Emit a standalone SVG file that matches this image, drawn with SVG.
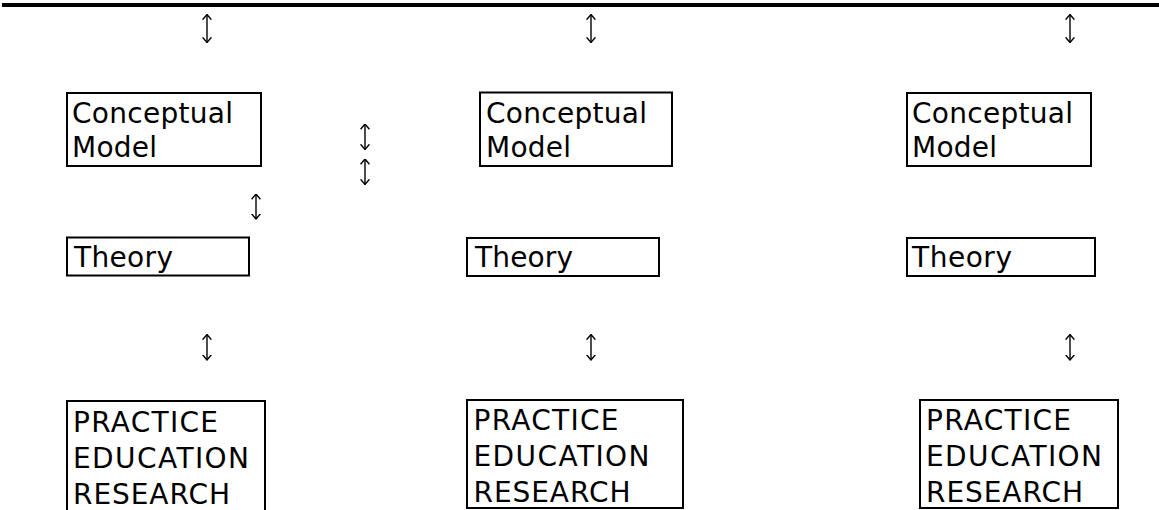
<svg xmlns="http://www.w3.org/2000/svg" width="1159" height="510" viewBox="0 0 1159 510">
<style>
.box{fill:#fff;stroke:#000;stroke-width:2}
.t{font-family:"DejaVu Sans","Liberation Sans",sans-serif;font-size:28px;fill:#000}
.arr{stroke:#000;stroke-width:1.4;fill:none;marker-start:url(#ah);marker-end:url(#ah)}
</style>
<defs>
<marker id="ah" viewBox="0 0 6 10" refX="5.5" refY="5" markerWidth="6" markerHeight="10" markerUnits="userSpaceOnUse" orient="auto-start-reverse">
<path d="M0.3,0.6 L5.5,5 L0.3,9.4" fill="none" stroke="#000" stroke-width="1.4"/>
</marker>
</defs>
<rect x="0" y="0" width="1159" height="510" fill="#fff"/>
<line x1="2" y1="5" x2="1159" y2="5" stroke="#000" stroke-width="4"/>

<g id="cm-left">
<rect class="box" x="67" y="93" width="194" height="73"/>
<text class="t" x="72" y="123" textLength="161">Conceptual</text>
<text class="t" x="72" y="157" textLength="85">Model</text>
</g>
<g id="cm-mid">
<rect class="box" x="480" y="92.5" width="192" height="73.5"/>
<text class="t" x="486" y="123" textLength="161">Conceptual</text>
<text class="t" x="486" y="157" textLength="85">Model</text>
</g>
<g id="cm-right">
<rect class="box" x="907" y="93" width="184" height="73"/>
<text class="t" x="912" y="123" textLength="161">Conceptual</text>
<text class="t" x="912" y="157" textLength="85">Model</text>
</g>

<g id="theory-left">
<rect class="box" x="67" y="237.5" width="182" height="38"/>
<text class="t" x="74" y="267" textLength="99">Theory</text>
</g>
<g id="theory-mid">
<rect class="box" x="467" y="238" width="192" height="38"/>
<text class="t" x="475" y="267" textLength="98">Theory</text>
</g>
<g id="theory-right">
<rect class="box" x="907" y="238" width="188" height="38"/>
<text class="t" x="912" y="267" textLength="100">Theory</text>
</g>

<g id="practice-left">
<rect class="box" x="67" y="401" width="198" height="130"/>
<text class="t" x="73" y="431.5" textLength="145">PRACTICE</text>
<text class="t" x="73" y="468" textLength="176">EDUCATION</text>
<text class="t" x="73" y="504" textLength="157">RESEARCH</text>
</g>
<g id="practice-mid">
<rect class="box" x="467" y="400" width="216" height="108"/>
<text class="t" x="473.5" y="430" textLength="145">PRACTICE</text>
<text class="t" x="473.5" y="466" textLength="176">EDUCATION</text>
<text class="t" x="473.5" y="501.7" textLength="157">RESEARCH</text>
</g>
<g id="practice-right">
<rect class="box" x="920" y="400" width="198" height="108"/>
<text class="t" x="926" y="429.5" textLength="145">PRACTICE</text>
<text class="t" x="926" y="466" textLength="176">EDUCATION</text>
<text class="t" x="926" y="501.7" textLength="157">RESEARCH</text>
</g>

<g id="connectors">
<line class="arr" x1="207" y1="14.5" x2="207" y2="42.5"/>
<line class="arr" x1="591" y1="14.5" x2="591" y2="42.5"/>
<line class="arr" x1="1070" y1="14.5" x2="1070" y2="42.5"/>
<line class="arr" x1="365" y1="124" x2="365" y2="149.5"/>
<line class="arr" x1="365" y1="159" x2="365" y2="184.5"/>
<line class="arr" x1="256" y1="194" x2="256" y2="219"/>
<line class="arr" x1="207" y1="334.5" x2="207" y2="360"/>
<line class="arr" x1="591" y1="334.5" x2="591" y2="360"/>
<line class="arr" x1="1070" y1="334.5" x2="1070" y2="360"/>
</g>
</svg>
